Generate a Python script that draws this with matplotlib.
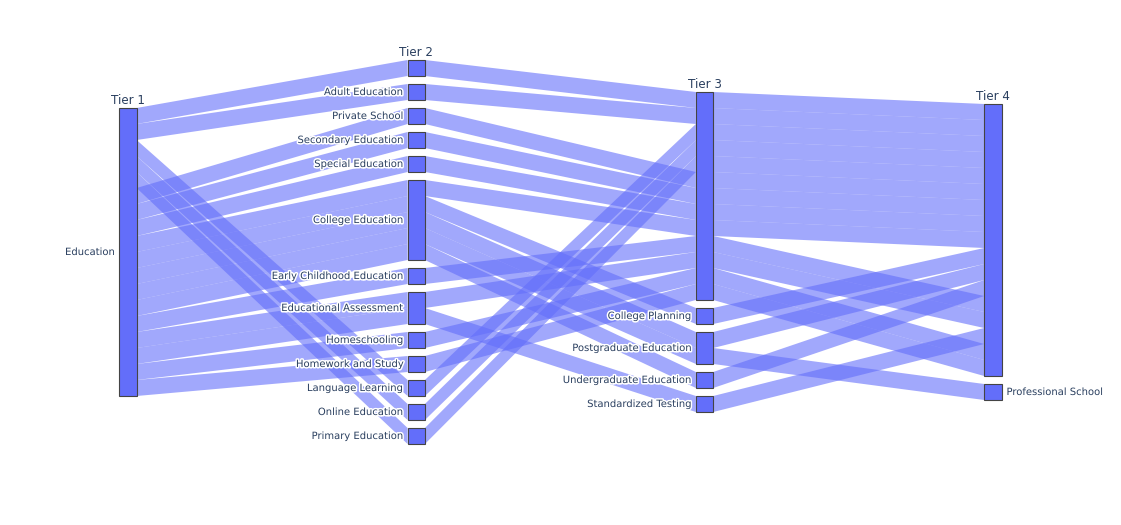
import matplotlib.pyplot as plt
import matplotlib.patheffects as pe
from matplotlib.patches import Rectangle, Polygon


# one entry per row of the data, in the order the bands are stacked
tier1 = ["Education"] * 18
tier2 = ["", "Adult Education", "Language Learning", "Online Education",
         "Primary Education", "Private School", "Secondary Education",
         "Special Education", "College Education", "College Education",
         "College Education", "College Education", "College Education",
         "Early Childhood Education", "Educational Assessment",
         "Educational Assessment", "Homeschooling", "Homework and Study"]
tier3 = ["", "", "", "", "", "", "", "", "",
         "College Planning", "Postgraduate Education", "Postgraduate Education",
         "Undergraduate Education", "", "", "Standardized Testing", "", ""]
tier4 = ["", "", "", "", "", "", "", "", "", "", "",
         "Professional School", "", "", "", "", "", ""]

# category order inside each dimension, top to bottom
order1 = ["Education"]
order2 = ["", "Adult Education", "Private School", "Secondary Education",
          "Special Education", "College Education", "Early Childhood Education",
          "Educational Assessment", "Homeschooling", "Homework and Study",
          "Language Learning", "Online Education", "Primary Education"]
order3 = ["", "College Planning", "Postgraduate Education",
          "Undergraduate Education", "Standardized Testing"]
order4 = ["", "Professional School"]

tier_names = ["Tier 1", "Tier 2", "Tier 3", "Tier 4"]

# layout (pixels)
W, H = 1121, 525
UNIT = 16.0
PAD = 8.0
NODE_W = 17.3
X_LEFT = 119.3
X_STEP = 288.3
Y_MID = 252.0

BLUE = "#636efa"
TEXT = "#2a3f5f"

columns = [tier1, tier2, tier3, tier4]
orders = [order1, order2, order3, order4]


def layout(rows, order):
    """Return category boxes and the top y of every row's band."""
    n = len(rows)
    total = n * UNIT + PAD * (len(order) - 1)
    y = Y_MID - total / 2
    boxes = []
    row_y = [0.0] * n
    for cat in order:
        members = [i for i, c in enumerate(rows) if c == cat]
        boxes.append((cat, y, len(members) * UNIT))
        for k, i in enumerate(members):
            row_y[i] = y + k * UNIT
        y += len(members) * UNIT + PAD
    return boxes, row_y


fig = plt.figure(figsize=(W / 100, H / 100), dpi=100)
ax = fig.add_axes([0, 0, 1, 1])
ax.set_xlim(0, W)
ax.set_ylim(H, 0)
ax.axis("off")

layouts = [layout(rows, order) for rows, order in zip(columns, orders)]
xs = [X_LEFT + X_STEP * i for i in range(len(columns))]

# bands between dimensions
for d in range(len(columns) - 1):
    ya = layouts[d][1]
    yb = layouts[d + 1][1]
    xa = xs[d] + NODE_W
    xb = xs[d + 1]
    for r in range(len(ya)):
        pts = [(xa, ya[r]), (xb, yb[r]), (xb, yb[r] + UNIT), (xa, ya[r] + UNIT)]
        ax.add_patch(Polygon(pts, closed=True, facecolor=BLUE, alpha=0.6,
                             edgecolor="none", lw=0))

halo = [pe.withStroke(linewidth=2.2, foreground="white")]

for d, (boxes, _) in enumerate(layouts):
    x = xs[d]
    for cat, top, h in boxes:
        ax.add_patch(Rectangle((x, top), NODE_W, h, facecolor=BLUE,
                               edgecolor="#444444", lw=0.8, zorder=3))
        if not cat:
            continue
        if d < len(columns) - 1:
            ax.text(x - 4.5, top + h / 2, cat, ha="right", va="center",
                    fontsize=7.2, color=TEXT, path_effects=halo, zorder=4)
        else:
            ax.text(x + NODE_W + 5, top + h / 2, cat, ha="left", va="center",
                    fontsize=7.2, color=TEXT, path_effects=halo, zorder=4)
    ax.text(x + NODE_W / 2, boxes[0][1] - 3.5, tier_names[d], ha="center",
            va="baseline", fontsize=8.6, color=TEXT, zorder=4)

fig.savefig("out.png", dpi=100)
